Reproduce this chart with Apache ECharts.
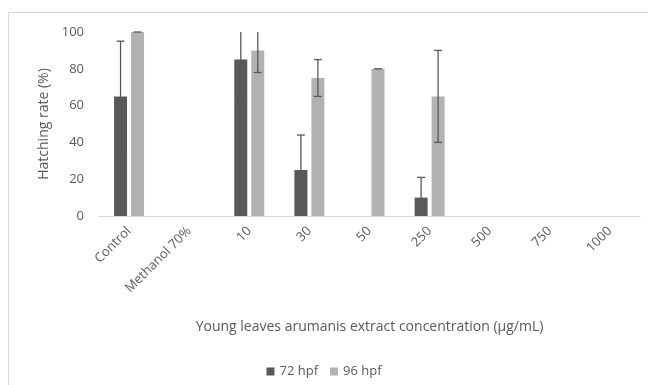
<!DOCTYPE html>
<html>
<head>
<meta charset="utf-8">
<script src="https://cdn.jsdelivr.net/npm/echarts@6/dist/echarts.min.js"></script>
<style>
  html, body { margin: 0; padding: 0; background: #fff; }
  #chart { width: 648px; height: 385px; }
</style>
</head>
<body>
<div id="chart"></div>
<script>
// categories on the x axis
var categories = ['Control', 'Methanol 70%', '10', '30', '50', '250', '500', '750', '1000'];
// hatching rate means (%)
var hpf72 = [65, null, 85, 25, null, 10, null, null, null];
var hpf96 = [100, null, 90, 75, 80, 65, null, null, null];
// error bar half-lengths
var err72 = [30, null, 20, 19, null, 11, null, null, null];
var err96 = [0, null, 12, 10, 0, 25, null, null, null];
var yTicks = [0, 20, 40, 60, 80, 100];

var BAR_W = 13;
var GAP = 4;
var TXT = '#595959';
var FONT = '"Open Sans", "Noto Sans", sans-serif';

function errData(means, errs) {
  var out = [];
  for (var i = 0; i < means.length; i++) {
    if (means[i] != null && errs[i] != null) {
      out.push([i, means[i], errs[i]]);
    }
  }
  return out;
}

// whiskers, clipped to the 0-100 axis range like the original
function errorBar(offset) {
  return function (params, api) {
    var idx = api.value(0);
    var mean = api.value(1);
    var e = api.value(2);
    var hi = mean + e, lo = mean - e;
    var hiCap = hi <= 100, loCap = lo >= 0;
    hi = Math.min(hi, 100);
    lo = Math.max(lo, 0);
    var pHi = api.coord([idx, hi]);
    var pLo = api.coord([idx, lo]);
    var x = pHi[0] + offset;
    var style = { stroke: '#595959', lineWidth: 1.3 };
    var kids = [{ type: 'line', shape: { x1: x, y1: pHi[1], x2: x, y2: pLo[1] }, style: style }];
    if (hiCap) kids.push({ type: 'line', shape: { x1: x - 4, y1: pHi[1], x2: x + 4, y2: pHi[1] }, style: style });
    if (loCap && e > 0) kids.push({ type: 'line', shape: { x1: x - 4, y1: pLo[1], x2: x + 4, y2: pLo[1] }, style: style });
    return { type: 'group', children: kids };
  };
}

var chart = echarts.init(document.getElementById('chart'));
chart.setOption({
  animation: false,
  textStyle: { fontFamily: FONT },
  graphic: [{
    type: 'rect',
    shape: { x: 8.5, y: 12.5, width: 700, height: 400 },
    style: { fill: 'none', stroke: '#d9d9d9', lineWidth: 1 },
    silent: true
  }],
  grid: { left: 99, right: 8, top: 32, bottom: 169 },
  legend: {
    bottom: 2,
    left: 'center',
    itemWidth: 8,
    itemHeight: 8,
    itemGap: 12,
    icon: 'rect',
    textStyle: { color: TXT, fontSize: 13, fontFamily: FONT },
    data: ['72 hpf', '96 hpf']
  },
  xAxis: {
    type: 'category',
    data: categories,
    name: 'Young leaves arumanis extract concentration (\u03bcg/mL)',
    nameLocation: 'middle',
    nameGap: 104,
    nameTextStyle: { color: TXT, fontSize: 14, fontFamily: FONT },
    axisLine: { lineStyle: { color: '#d9d9d9', width: 1 } },
    axisTick: { show: false },
    axisLabel: { rotate: 45, color: TXT, fontSize: 13, margin: 13, interval: 0, fontFamily: FONT }
  },
  yAxis: {
    type: 'value',
    min: yTicks[0],
    max: yTicks[yTicks.length - 1],
    interval: 20,
    name: 'Hatching rate (%)',
    nameLocation: 'middle',
    nameGap: 47,
    nameTextStyle: { color: TXT, fontSize: 14, fontFamily: FONT },
    axisLine: { show: false },
    axisTick: { show: false },
    splitLine: { show: false },
    axisLabel: { color: TXT, fontSize: 13, margin: 15, fontFamily: FONT }
  },
  series: [
    {
      name: '72 hpf', type: 'bar', data: hpf72,
      barWidth: BAR_W, barGap: (GAP / BAR_W * 100) + '%',
      itemStyle: { color: '#595959' }
    },
    {
      name: '96 hpf', type: 'bar', data: hpf96,
      barWidth: BAR_W, barGap: (GAP / BAR_W * 100) + '%',
      itemStyle: { color: '#b2b2b2' }
    },
    {
      type: 'custom', data: errData(hpf72, err72),
      renderItem: errorBar(-(BAR_W + GAP) / 2), z: 10, silent: true
    },
    {
      type: 'custom', data: errData(hpf96, err96),
      renderItem: errorBar((BAR_W + GAP) / 2), z: 10, silent: true
    }
  ]
});
</script>
</body>
</html>
